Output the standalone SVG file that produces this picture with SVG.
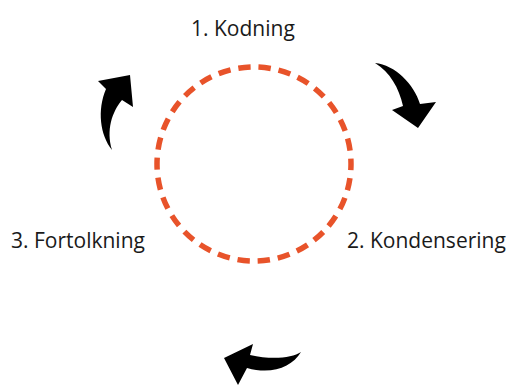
<svg xmlns="http://www.w3.org/2000/svg" width="511" height="385" viewBox="0 0 511 385">
<style>
.lbl{font-family:"Open Sans","Liberation Sans",sans-serif;font-size:21px;fill:#1a1a1a}
.ring{fill:none;stroke:#E8532A;stroke-width:5.5;stroke-dasharray:12.3 8;stroke-dashoffset:6}
.arr{fill:#000}
</style>
<rect width="511" height="385" fill="#fff"/>
<g id="cycle">
<circle class="ring" cx="254" cy="164" r="97"/>
</g>
<g id="node1"><text class="lbl" x="191" y="36">1. Kodning</text></g>
<g id="node2"><text class="lbl" x="347" y="248">2. Kondensering</text></g>
<g id="node3"><text class="lbl" x="11" y="248">3. Fortolkning</text></g>
<g id="connectors">
<path class="arr" d="M375,63 C395,65 414,84 420,104 L436,102 L418,128 L392,110 L403,106 C399,88 390,72 375,63 Z"/>
<path class="arr" d="M112,150 C100,135 97,110 106,89 L98,81 L130,75 L133,107 L122,100 C112,112 106,130 112,150 Z"/>
<path class="arr" d="M301,352 C292,358 272,360 250,355 L253,344 L224,358 L238,385 L247,368 C272,375 292,367 301,352 Z"/>
</g>
</svg>
